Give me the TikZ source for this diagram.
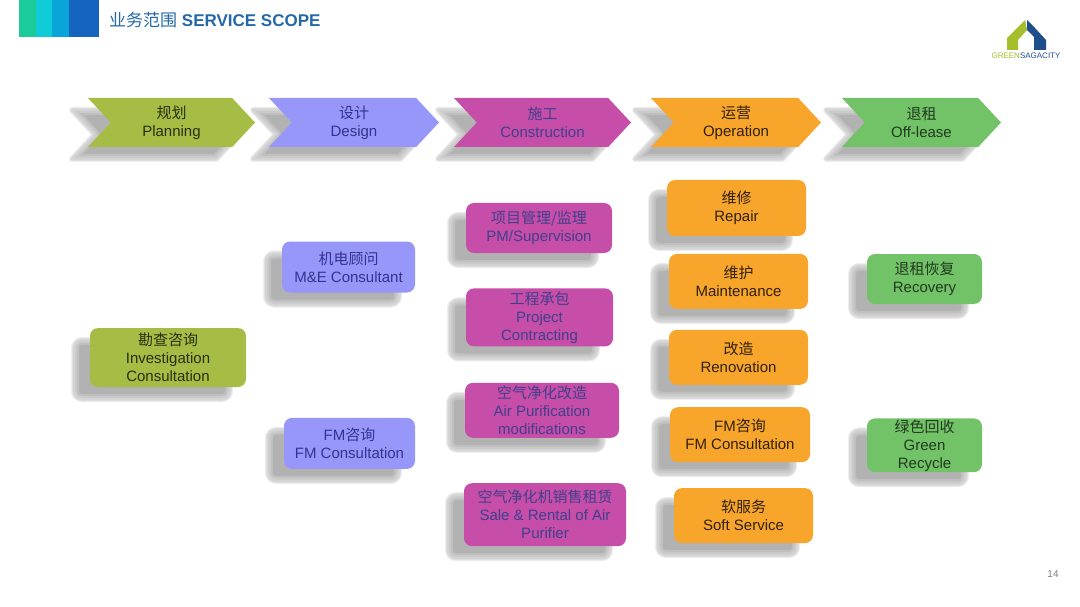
\documentclass[tikz,border=0pt]{standalone}
\usepackage{fontspec}
\usepackage{xcolor}
\usepackage{tikz}
\usetikzlibrary{positioning,shapes.symbols,shadows}
\setmainfont{Liberation Sans}
\newfontfamily\cjk{Noto Sans CJK SC}
\newcommand{\zh}[1]{{\cjk #1}}
\definecolor{cPlan}{HTML}{A5BD45}
\definecolor{cDesign}{HTML}{9797FA}
\definecolor{cBuild}{HTML}{C64DA8}
\definecolor{cOper}{HTML}{F7A52B}
\definecolor{cLease}{HTML}{72C268}
\definecolor{cTitle}{HTML}{2468A8}
\definecolor{cLogoG}{HTML}{A4BE2C}
\definecolor{cLogoB}{HTML}{1F4E8C}
\definecolor{cBandA}{HTML}{1CCB9A}
\definecolor{cBandB}{HTML}{10CCD8}
\definecolor{cBandC}{HTML}{0AA5D8}
\definecolor{cBandD}{HTML}{1565C0}
\tikzset{
  shadowpart/.style={shadow xshift=-16pt, shadow yshift=-12pt, line join=round},
  softshadow/.style={
    general shadow={shadowpart, draw=black, fill=none, draw opacity=.10, line width=6pt},
    general shadow={shadowpart, draw=black, fill=none, draw opacity=.10, line width=4pt},
    general shadow={shadowpart, draw=black, fill=none, draw opacity=.12, line width=2pt},
    general shadow={shadowpart, fill=black!30},
    general shadow={shadowpart, draw=white, fill=none, draw opacity=.18, line width=10pt},
    general shadow={shadowpart, draw=white, fill=none, draw opacity=.18, line width=6pt},
    general shadow={shadowpart, draw=white, fill=none, draw opacity=.18, line width=2pt}},
  base/.style ={softshadow, align=center, inner sep=1pt, font=\fontsize{15}{18}\selectfont},
  box/.style  ={base, rectangle, rounded corners=8pt},
  chev/.style ={base, signal, signal from=west, signal to=east, signal pointer angle=94, minimum height=49pt},
  plan/.style ={fill=cPlan, text=black!75!cPlan},
  design/.style={fill=cDesign, text=blue!45!black!80},
  build/.style={fill=cBuild, text=blue!40!black!75},
  oper/.style ={fill=cOper, text=black!80!cOper},
  lease/.style={fill=cLease, text=black!70!cLease},
}
\begin{document}
\begin{tikzpicture}[x=1pt,y=-1pt]
    \useasboundingbox (0,0) rectangle (1080,607);
    % header band
    \fill[cBandA] (19,0) rectangle (36,37);
    \fill[cBandB] (36,0) rectangle (52,37);
    \fill[cBandC] (52,0) rectangle (69,37);
    \fill[cBandD] (69,0) rectangle (99,37);
    \node[anchor=west, inner sep=0pt, text=cTitle, font=\fontsize{17}{20}\selectfont] (title) at (109,20)
      {\zh{业务范围} \textbf{SERVICE SCOPE}};
    % logo
    \fill[cLogoG] (1007,50) -- (1007,38) -- (1025,20) -- (1027,30) -- (1018,40) -- (1018,50) -- cycle;
    \fill[cLogoB] (1027,20) -- (1035,28) -- (1046,40) -- (1046,50) -- (1034,50) -- (1034,37) -- (1027,30) -- cycle;
    \node[inner sep=0pt, font=\fontsize{8}{9}\selectfont] (logotext) at (1026,56)
      {\textcolor{cLogoG}{GREEN}\textcolor{cLogoB}{SAGACITY}};
    % stages
    \node[chev, plan,   minimum width=167pt] (planning) at (171.5,122.5) {\zh{规划}\\Planning};
    \node[chev, design, minimum width=170pt] (designing) at (354,122.5) {\zh{设计}\\Design};
    \node[chev, build,  minimum width=177pt] (construct) at (542.5,122.5) {\zh{施工}\\Construction};
    \node[chev, oper,   minimum width=170pt] (operation) at (736,122.5) {\zh{运营}\\Operation};
    \node[chev, lease,  minimum width=159pt] (offlease) at (921.5,122.5) {\zh{退租}\\Off-lease};
    % planning and design
    \node[box, plan, minimum width=156pt, minimum height=59pt] (invest) at (168,357.5) {\zh{勘查咨询}\\Investigation\\Consultation};
    \node[box, design, minimum width=133pt, minimum height=51pt] (mande) at (348.5,267) {\zh{机电顾问}\\M\&E Consultant};
    \node[box, design, minimum width=131pt, minimum height=51pt, below=125pt of mande, xshift=1pt] (fmdesign) {FM\zh{咨询}\\FM Consultation};
    % construction
    \node[box, build, minimum width=146pt, minimum height=50pt] (pm) at (539,228) {\zh{项目管理/监理}\\PM/Supervision};
    \node[box, build, minimum width=147pt, minimum height=58pt, below=35pt of pm, xshift=.5pt] (contract) {\zh{工程承包}\\Project\\Contracting};
    \node[box, build, minimum width=154pt, minimum height=55pt, below=36pt of contract, xshift=2.5pt] (purify) {\zh{空气净化改造}\\Air Purification\\modifications};
    \node[box, build, minimum width=162pt, minimum height=63pt, below=45pt of purify, xshift=3pt] (rental) {\zh{空气净化机销售租赁}\\Sale \& Rental of Air\\Purifier};
    % operation
    \node[box, oper, minimum width=139pt, minimum height=56pt] (repair) at (736.5,208) {\zh{维修}\\Repair};
    \node[box, oper, minimum width=139pt, minimum height=55pt, below=17.5pt of repair, xshift=2pt] (maint) {\zh{维护}\\Maintenance};
    \node[box, oper, minimum width=139pt, minimum height=55pt, below=20.5pt of maint] (renov) {\zh{改造}\\Renovation};
    \node[box, oper, minimum width=140pt, minimum height=55pt, below=22pt of renov, xshift=1.5pt] (fmoper) {FM\zh{咨询}\\FM Consultation};
    \node[box, oper, minimum width=139pt, minimum height=55pt, below=25.5pt of fmoper, xshift=3.5pt] (soft) {\zh{软服务}\\Soft Service};
    % off-lease
    \node[box, lease, minimum width=115pt, minimum height=50pt] (recovery) at (924.5,279) {\zh{退租恢复}\\Recovery};
    \node[box, lease, minimum width=115pt, minimum height=50pt, below=114pt of recovery] (recycle) {\zh{绿色回收}\\Green\\Recycle};
    \node[inner sep=0pt, text=black!50, font=\fontsize{10}{12}\selectfont] (pageno) at (1053,574) {14};
  \end{tikzpicture}
\end{document}
